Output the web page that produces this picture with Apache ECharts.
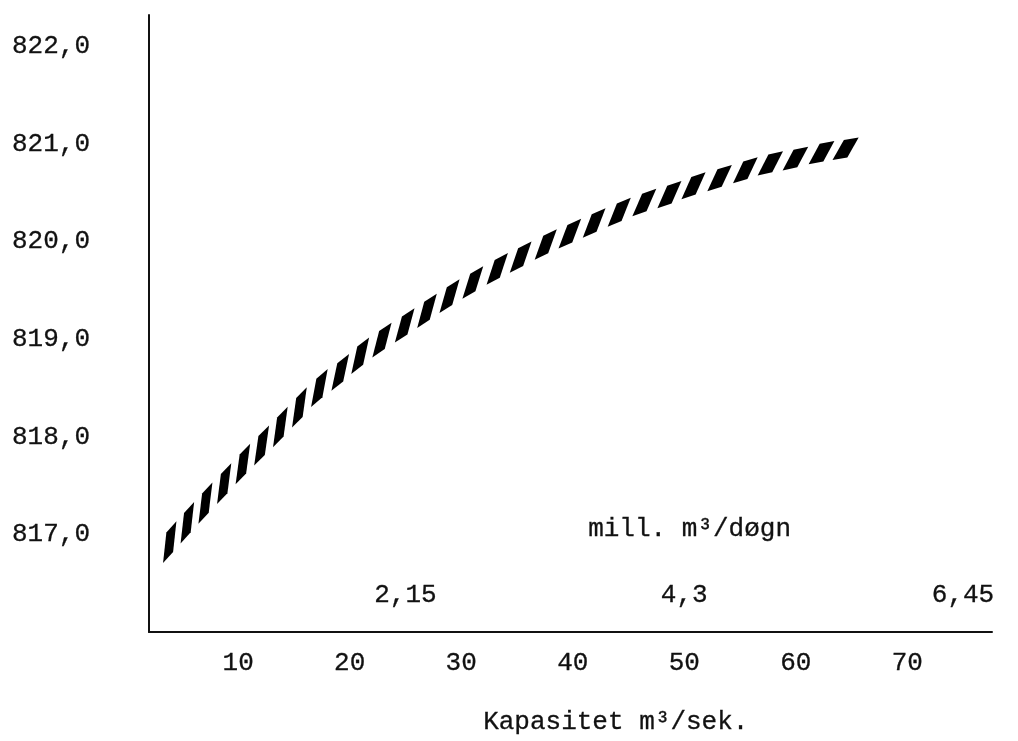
<!DOCTYPE html>
<html>
<head>
<meta charset="utf-8">
<script src="https://cdn.jsdelivr.net/npm/echarts@6/dist/echarts.min.js"></script>
<style>
  html, body { margin: 0; padding: 0; background: #ffffff; }
  #chart { width: 1018px; height: 741px; }
</style>
</head>
<body>
<div id="chart"></div>
<script>
// Hatch-mark centres of the curve (Kapasitet m3/sek  vs  level)
const capacity = [3.86, 5.44, 7.06, 8.74, 10.42, 12.10, 13.78, 15.49, 17.28, 19.15,
                  20.94, 22.89, 24.93, 26.93, 28.95, 31.04, 33.23, 35.33, 37.58, 39.74,
                  41.92, 44.17, 46.42, 48.67, 50.83, 53.17, 55.48, 57.72, 59.97, 62.31, 64.47];
const level = [816.92, 817.12, 817.32, 817.52, 817.72, 817.91, 818.10, 818.30, 818.50, 818.66,
               818.83, 818.99, 819.14, 819.29, 819.44, 819.58, 819.72, 819.84, 819.97, 820.08,
               820.19, 820.30, 820.40, 820.48, 820.57, 820.65, 820.73, 820.80, 820.85, 820.91, 820.95];

const xTickValues = [10, 20, 30, 40, 50, 60, 70];
const yTickValues = [817, 818, 819, 820, 821, 822];
const dayTickValues = [25, 50, 75];
const dayTickLabels = ['2,15', '4,3', '6,45'];

const xAxisTitle = 'Kapasitet m³/sek.';
const dayAxisTitle = 'mill. m³/døgn';

const FONT = '"Liberation Mono", "DejaVu Sans Mono", monospace';
const INK = '#111111';
const textInk = { color: INK, fontFamily: FONT, fontSize: 26, textBorderColor: INK, textBorderWidth: 0.3 };

const chart = echarts.init(document.getElementById('chart'), null, { renderer: 'canvas' });

function renderHatch(params, api) {
  const i = params.dataIndex;
  const n = capacity.length;
  const c = api.coord([api.value(0), api.value(1)]);
  const ip = Math.max(i - 1, 0), inx = Math.min(i + 1, n - 1);
  const p0 = api.coord([capacity[ip], level[ip]]);
  const p1 = api.coord([capacity[inx], level[inx]]);
  const th = Math.atan2(-(p1[1] - p0[1]), p1[0] - p0[0]);
  const ph = 55 * Math.PI / 180 + 0.6 * th;
  const T = 18, a = 15;
  const b = T / Math.sin(ph - th);
  const t = [Math.cos(th), -Math.sin(th)];
  const h = [Math.cos(ph), -Math.sin(ph)];
  const pt = (s1, s2) => [c[0] + s1 * a / 2 * t[0] + s2 * b / 2 * h[0],
                          c[1] + s1 * a / 2 * t[1] + s2 * b / 2 * h[1]];
  return {
    type: 'polygon',
    shape: { points: [pt(1, 1), pt(-1, 1), pt(-1, -1), pt(1, -1)] },
    style: { fill: '#000000' }
  };
}

const option = {
  backgroundColor: '#ffffff',
  animation: false,
  grid: { left: 149, right: 26, top: 15, bottom: 109, containLabel: false },
  xAxis: [{
    type: 'value',
    min: 2, max: 77.6,
    position: 'bottom',
    axisLine: { show: true, onZero: false, lineStyle: { color: INK, width: 2 } },
    axisTick: { show: false },
    splitLine: { show: false },
    axisLabel: Object.assign({ customValues: xTickValues, margin: 18 }, textInk)
  }, {
    type: 'value',
    min: 2, max: 77.6,
    position: 'bottom',
    axisLine: { show: false },
    axisTick: { show: false },
    splitLine: { show: false },
    axisLabel: Object.assign({
      inside: true,
      customValues: dayTickValues,
      formatter: function (v) {
        const k = dayTickValues.indexOf(v);
        return k >= 0 ? dayTickLabels[k] : '';
      },
      margin: 24
    }, textInk)
  }],
  yAxis: {
    type: 'value',
    min: 816, max: 822.32,
    axisLine: { show: true, onZero: false, lineStyle: { color: INK, width: 2 } },
    axisTick: { show: false },
    splitLine: { show: false },
    axisLabel: Object.assign({
      customValues: yTickValues,
      formatter: function (v) { return v.toFixed(1).replace('.', ','); },
      margin: 59
    }, textInk)
  },
  graphic: [{
    type: 'text', left: 483, top: 709,
    style: { text: xAxisTitle, fill: INK, font: '26px ' + FONT, stroke: INK, lineWidth: 0.3 }
  }, {
    type: 'text', left: 588, top: 516,
    style: { text: dayAxisTitle, fill: INK, font: '26px ' + FONT, stroke: INK, lineWidth: 0.3 }
  }],
  series: [{
    type: 'custom',
    coordinateSystem: 'cartesian2d',
    xAxisIndex: 0, yAxisIndex: 0,
    clip: false,
    silent: true,
    renderItem: renderHatch,
    encode: { x: 0, y: 1 },
    data: capacity.map((x, i) => [x, level[i]])
  }]
};

chart.setOption(option);
</script>
</body>
</html>
